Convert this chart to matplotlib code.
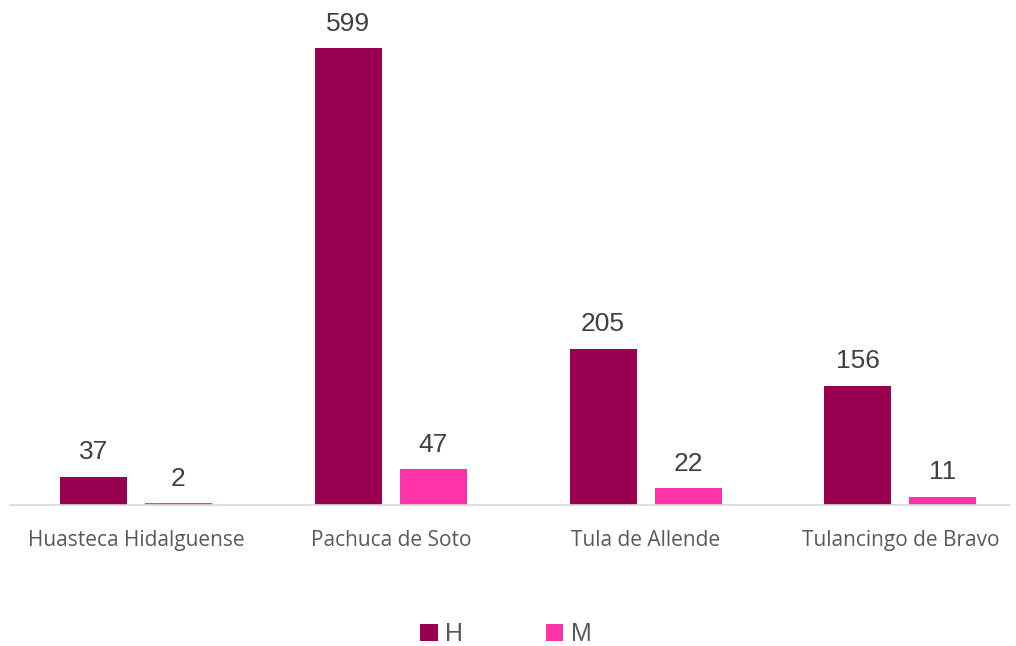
import numpy as np
import matplotlib
matplotlib.use("Agg")
import matplotlib.pyplot as plt

categories = ["Huasteca Hidalguense", "Pachuca de Soto", "Tula de Allende", "Tulancingo de Bravo"]
h_values = [37, 599, 205, 156]
m_values = [2, 47, 22, 11]

W, H = 1016, 646
fig = plt.figure(figsize=(W / 100, H / 100), dpi=100)

# plot area in pixels (axis line at y=505)
left, right, top, bottom = 10, 1010, 10, 505
ax = fig.add_axes([left / W, 1 - bottom / H, (right - left) / W, (bottom - top) / H])

x = np.arange(len(categories))
width = 0.263
off = 0.1667
b1 = ax.bar(x - off, h_values, width, color="#990050", label="H")
b2 = ax.bar(x + off, m_values, width, color="#FF33A8", label="M")

for bars in (b1, b2):
    for rect in bars:
        ax.annotate(str(int(rect.get_height())),
                    (rect.get_x() + rect.get_width() / 2, rect.get_height()),
                    xytext=(0, 9), textcoords="offset points",
                    ha="center", va="bottom", fontsize=19,
                    family="Liberation Sans", color="#404040")

spacing = 254.8
ax.set_xlim(-(136 - left) / spacing, (right - 136) / spacing)
ax.set_ylim(0, (bottom - top) / 457 * 599)

ax.set_xticks(x)
ax.set_xticklabels(categories, fontsize=15, family="Open Sans", color="#595959")
ax.tick_params(axis="x", length=0, pad=18)
ax.set_yticks([])
for s in ["left", "right", "top"]:
    ax.spines[s].set_visible(False)
ax.spines["bottom"].set_color("#d9d9d9")
ax.spines["bottom"].set_linewidth(1.2)

fig.legend(handles=[b1, b2], labels=["H", "M"], loc="center",
           bbox_to_anchor=(506 / W, 1 - 634 / H), ncol=2, frameon=False,
           prop={"family": "Liberation Sans", "size": 18},
           handlelength=0.7, handleheight=0.7, handletextpad=0.3,
           columnspacing=3.3, labelcolor="#595959")

fig.savefig("out.png", dpi=100)
